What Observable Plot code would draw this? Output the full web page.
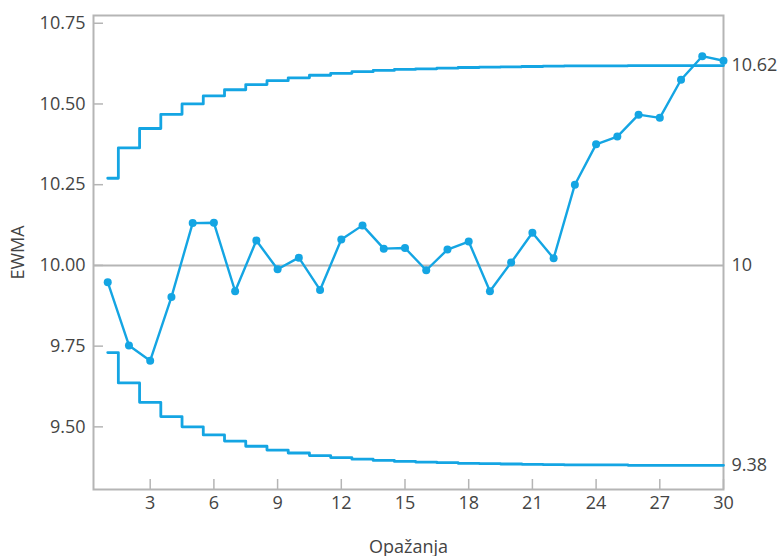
<!DOCTYPE html>
<html>
<head>
<meta charset="utf-8">
<script src="https://cdn.jsdelivr.net/npm/d3@7"></script>
<script src="https://cdn.jsdelivr.net/npm/@observablehq/plot@0.6"></script>
<style>
  html, body { margin: 0; padding: 0; background: #fff; }
  #chart svg { display: block; }
</style>
</head>
<body>
<div id="chart"></div>
<script>
const observations = [1,2,3,4,5,6,7,8,9,10,11,12,13,14,15,16,17,18,19,20,21,22,23,24,25,26,27,28,29,30];
const ewma = [9.948, 9.752, 9.705, 9.902, 10.131, 10.132, 9.920, 10.077, 9.988, 10.024,
              9.924, 10.080, 10.124, 10.052, 10.054, 9.985, 10.049, 10.074, 9.920, 10.009,
              10.101, 10.022, 10.250, 10.375, 10.399, 10.467, 10.457, 10.575, 10.648, 10.634];
const ucl = [10.270, 10.364, 10.424, 10.468, 10.500, 10.525, 10.544, 10.560, 10.572, 10.581,
             10.589, 10.595, 10.600, 10.604, 10.607, 10.609, 10.611, 10.613, 10.614, 10.615,
             10.616, 10.617, 10.618, 10.618, 10.618, 10.619, 10.619, 10.619, 10.619, 10.619];
const lcl = [9.730, 9.636, 9.576, 9.532, 9.500, 9.475, 9.456, 9.440, 9.428, 9.419,
             9.411, 9.405, 9.400, 9.396, 9.393, 9.391, 9.389, 9.387, 9.386, 9.385,
             9.384, 9.383, 9.382, 9.382, 9.382, 9.381, 9.381, 9.381, 9.381, 9.381];
const centerLine = 10;
const xTicks = [3, 6, 9, 12, 15, 18, 21, 24, 27, 30];
const yTicks = [9.50, 9.75, 10.00, 10.25, 10.50, 10.75];
const limitValues = [10.62, 10, 9.38];
const limitLabels = ["10.62", "10", "9.38"];

const rows = observations.map((o, i) => ({obs: o, ewma: ewma[i], ucl: ucl[i], lcl: lcl[i]}));
const limitRows = limitValues.map((v, i) => ({x: observations[observations.length - 1], y: v, label: limitLabels[i]}));

const blue = "#14a5e3";
const gray = "#b5b5b5";
const textColor = "#444";

const chart = Plot.plot({
  width: 782,
  height: 556,
  marginLeft: 93,
  marginTop: 15,
  marginRight: 59,
  marginBottom: 67,
  style: {fontFamily: "'Open Sans', sans-serif", fontSize: "18px", color: textColor, background: "#fff"},
  x: {domain: [0.33, 30]},
  y: {domain: [9.306, 10.774]},
  marks: [
    Plot.ruleY([centerLine], {stroke: gray, strokeWidth: 2}),
    Plot.frame({stroke: gray, strokeWidth: 2}),
    Plot.axisY({ticks: yTicks, tickSize: -10, tickFormat: () => "", label: null, stroke: gray, strokeWidth: 1.5}),
    Plot.axisY({ticks: yTicks, tickSize: 0, tickPadding: 8, tickFormat: ".2f", fontSize: 18, fill: textColor,
                label: "EWMA", labelAnchor: "center", labelArrow: "none", labelOffset: 82}),
    Plot.axisX({ticks: xTicks, tickSize: -10, tickFormat: () => "", label: null, stroke: gray, strokeWidth: 1.5}),
    Plot.axisX({ticks: xTicks, tickSize: 0, tickPadding: 7, tickFormat: d => String(d), fontSize: 18, fill: textColor,
                label: "Opažanja", labelAnchor: "center", labelArrow: "none", labelOffset: 63}),
    Plot.line(rows, {x: "obs", y: "ucl", curve: "step", stroke: blue, strokeWidth: 2.8}),
    Plot.line(rows, {x: "obs", y: "lcl", curve: "step", stroke: blue, strokeWidth: 2.8}),
    Plot.line(rows, {x: "obs", y: "ewma", stroke: blue, strokeWidth: 2.4}),
    Plot.dot(rows, {x: "obs", y: "ewma", r: 4, fill: blue}),
    Plot.text(limitRows, {x: "x", y: "y", text: "label", dx: 8, textAnchor: "start", fontSize: 18, fill: textColor})
  ]
});
document.getElementById("chart").appendChild(chart);
</script>
</body>
</html>
